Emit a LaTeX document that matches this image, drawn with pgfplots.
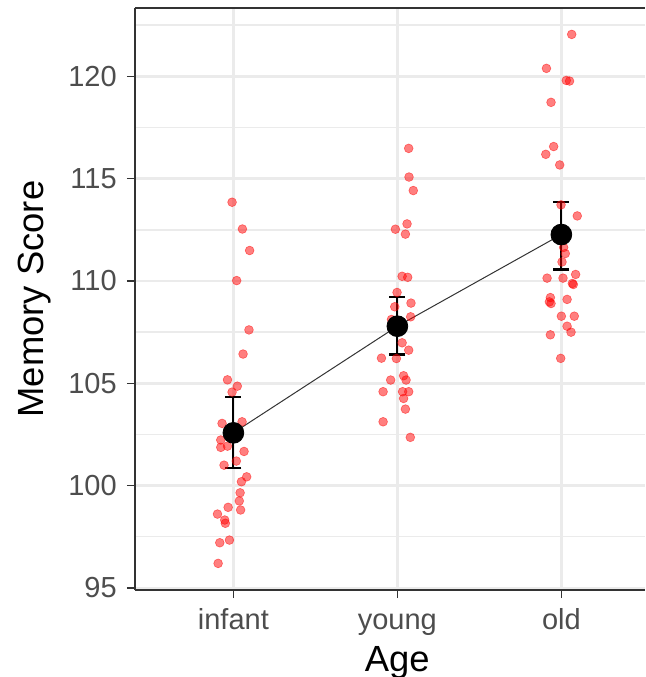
\documentclass[border=0pt]{standalone}
\usepackage{pgfplots}
\pgfplotsset{compat=1.18}
\usepackage{fontspec}
\setmainfont{Liberation Sans}
\definecolor{gray92}{HTML}{EBEBEB}
\definecolor{gray20}{HTML}{333333}
\definecolor{gray30}{HTML}{4D4D4D}
\begin{document}
\begin{tikzpicture}
\begin{axis}[
  at={(0,0)}, anchor=south west,
  scale only axis, width=255pt, height=291pt,
  xmin=0.4, xmax=3.51, ymin=94.9, ymax=123.34,
  xtick={1,2,3}, xticklabels={infant,young,old},
  ytick={95,100,105,110,115,120},
  minor ytick={97.5,102.5,107.5,112.5,117.5,122.5},
  minor tick length=0pt,
  /pgf/number format/assume math mode=true,
  axis x line*=box, axis y line*=left,
  axis line style={-, gray20, line width=0.8pt},
  tick align=outside, tick pos=left,
  major tick length=4.1pt,
  tick style={gray20, line width=0.8pt},
  xmajorgrids, ymajorgrids, yminorgrids,
  major grid style={gray92, line width=1.4pt},
  minor grid style={gray92, line width=0.7pt},
  ticklabel style={font=\fontsize{14.5}{17}\selectfont, text=gray30},
  xticklabel style={anchor=base, yshift=-15.5pt},
  yticklabel style={anchor=east, xshift=-1.5pt},
  xlabel={Age}, ylabel={Memory Score},
  every axis x label/.style={at={(axis description cs:0.514,0)}, anchor=base, yshift=-40.8pt, font=\fontsize{18.2}{21}\selectfont},
  every axis y label/.style={at={(axis description cs:-0.196,0.5)}, rotate=90, anchor=center, font=\fontsize{18.2}{21}\selectfont},
  clip=false,
]
% jittered observations
\addplot[only marks, mark=*, mark size=2.2pt, mark options={fill=red, draw=red, fill opacity=0.5, draw opacity=0.5, line width=0.3pt}] coordinates {
(0.992,113.85) (1.055,112.54) (1.099,111.49) (1.020,110.02) (1.095,107.61) (1.059,106.43)
(0.964,105.17) (1.024,104.86) (0.992,104.57) (0.931,103.04) (1.053,103.12) (0.923,102.23)
(0.923,101.87) (0.964,101.93) (1.065,101.67) (1.018,101.20) (0.943,101.00) (1.081,100.43)
(1.049,100.19) (1.041,99.65) (1.036,99.25) (1.044,98.81) (0.968,98.94) (0.903,98.61)
(0.947,98.32) (0.951,98.16) (0.976,97.34) (0.917,97.21) (0.907,96.20)
(2.069,116.48) (2.071,115.08) (2.097,114.42) (2.059,112.79) (1.988,112.53) (2.049,112.29)
(2.029,110.23) (2.063,110.18) (1.998,109.44) (2.083,108.92) (1.984,108.74) (1.964,108.12)
(2.081,108.25) (2.029,106.98) (2.069,106.62) (1.903,106.23) (1.994,106.21) (2.038,105.37)
(2.053,105.16) (1.959,105.16) (1.913,104.59) (2.032,104.59) (2.069,104.59) (2.038,104.26)
(2.049,103.74) (1.913,103.12) (2.079,102.36)
(3.063,122.05) (2.909,120.39) (3.030,119.80) (3.050,119.77) (2.937,118.73) (2.953,116.57)
(2.905,116.19) (2.990,115.67) (2.998,113.72) (3.097,113.18) (3.014,111.64) (3.024,111.34)
(3.004,110.93) (3.087,110.32) (2.913,110.14) (3.010,110.14) (3.067,109.88) (3.073,109.83)
(2.933,109.19) (2.937,108.90) (2.927,108.98) (3.035,109.10) (3.000,108.28) (3.079,108.28)
(3.035,107.79) (3.059,107.50) (2.933,107.37) (2.996,106.22)
};
% connecting line of means
\addplot[gray20, line width=0.5pt] coordinates {(1,102.58) (2,107.79) (3,112.27)};
% error bars
\addplot[only marks, mark=none, black, line width=1.1pt,
  error bars/.cd, y dir=both, y explicit,
  error bar style={line width=1.1pt, black},
  error mark options={rotate=90, mark size=4pt, line width=1.1pt, black}]
  coordinates {
  (1,102.58) += (0,1.76) -= (0,1.71)
  (2,107.79) += (0,1.43) -= (0,1.38)
  (3,112.27) += (0,1.58) -= (0,1.71)
  };
% means
\addplot[only marks, mark=*, mark size=5.2pt, mark options={fill=black, draw=black}] coordinates {
(1,102.58) (2,107.79) (3,112.27)};
\end{axis}
\pgfresetboundingbox
\path (-67.5pt,-43.5pt) rectangle (255pt,295pt);
\end{tikzpicture}
\end{document}
